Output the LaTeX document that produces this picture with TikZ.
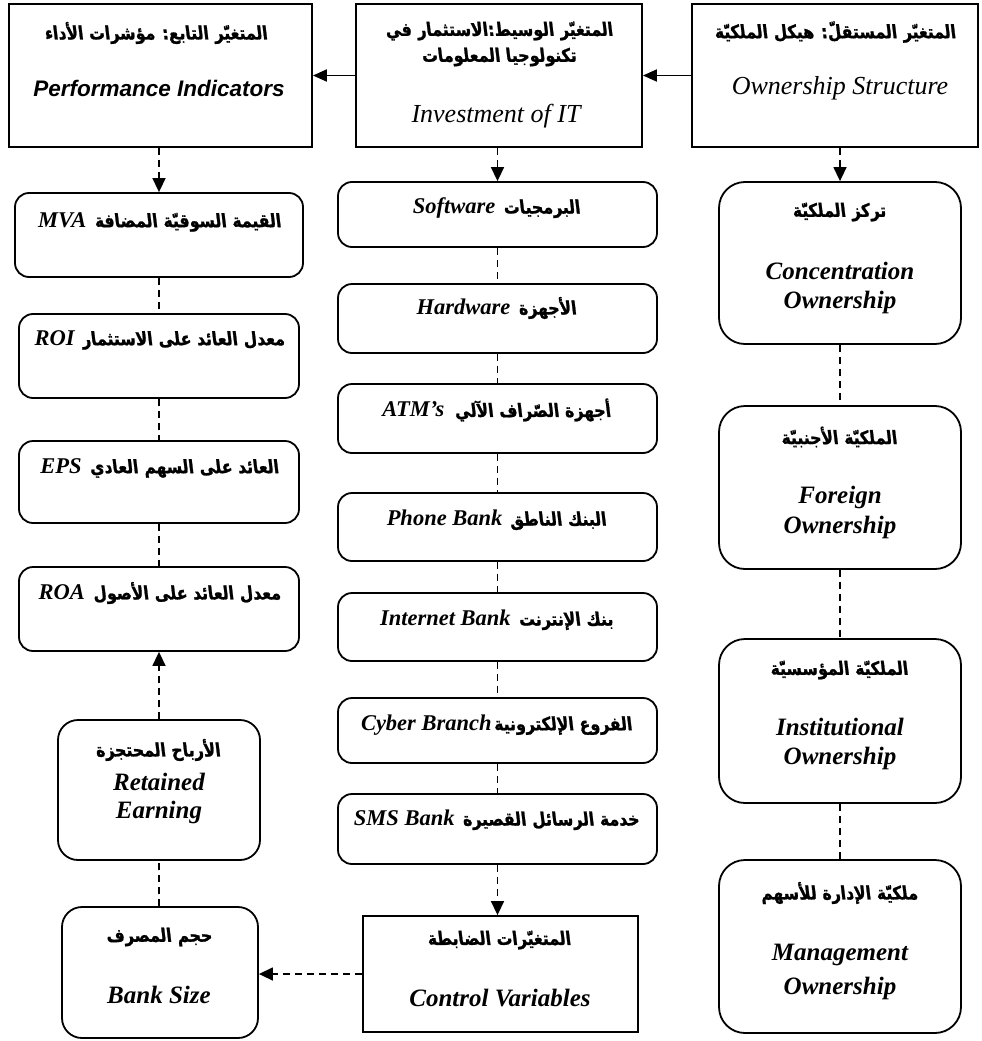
\documentclass[tikz,border=0pt]{standalone}
\usepackage{fontspec}
\usetikzlibrary{arrows.meta}
\TeXXeTstate=1
\newfontfamily\arabicfont[Script=Arabic,FakeSlant=-0.12,FakeStretch=0.85,FakeBold=1.2]{DejaVu Sans}
\newfontfamily\enserif{Liberation Serif}
\newfontfamily\ensans{Liberation Sans}
\newcommand{\arB}{\arabicfont\bfseries\fontsize{18.5}{22}\selectfont}
\newcommand{\enB}{\enserif\bfseries\itshape\fontsize{22.5}{26}\selectfont}
\newcommand{\enL}{\enserif\bfseries\itshape\fontsize{25}{29}\selectfont}
\newcommand{\enI}{\enserif\itshape\fontsize{26}{30}\selectfont}
\newcommand{\ar}[1]{{\arB\beginR #1\endR}}
\tikzset{
  sqbox/.style={draw, line width=1.8pt, inner sep=0pt},
  rbox/.style={draw, line width=1.8pt, rounded corners=14pt, inner sep=0pt},
  rbig/.style={draw, line width=1.8pt, rounded corners=26pt, inner sep=0pt},
  rmid/.style={draw, line width=1.8pt, rounded corners=20pt, inner sep=0pt},
  txt/.style={inner sep=0pt, anchor=center},
  dashln/.style={line width=1.5pt, dash pattern=on 7pt off 5pt},
  solidarr/.style={line width=1.8pt, -{Triangle[length=14pt,width=12pt]}},
  dasharr/.style={dashln, -{Triangle[length=14pt,width=13pt]}}
}
\begin{document}
\begin{tikzpicture}[x=1pt,y=-1pt]
\useasboundingbox (0,0) rectangle (982,1041);
% top row
\node[sqbox, minimum width=303pt, minimum height=143pt] (dep) at (160.5,75.5) {};
\node[sqbox, minimum width=286pt, minimum height=143pt] (med) at (499,75.5) {};
\node[sqbox, minimum width=286pt, minimum height=143pt] (ind) at (835,75.5) {};
\node[txt] (depA) at (157,33) {\ar{المتغيّر التابع: مؤشرات الأداء}};
\node[txt] (depE) at (159,88) {\ensans\bfseries\itshape\fontsize{22.5}{26}\selectfont Performance Indicators};
\node[txt] (medA) at (500,31) {\ar{المتغيّر الوسيط:الاستثمار في}};
\node[txt] (medB) at (500,57) {\ar{تكنولوجيا المعلومات}};
\node[txt] (medE) at (496,116) {\enI Investment of IT};
\node[txt] (indA) at (836,32) {\ar{المتغيّر المستقلّ: هيكل الملكيّة}};
\node[txt] (indE) at (840,88) {\enI Ownership Structure};
% left column
\node[rbox, minimum width=288pt, minimum height=84pt] (mva) at (159,235) {};
\node[rbox, minimum width=280pt, minimum height=84pt] (roi) at (159,356) {};
\node[rbox, minimum width=280pt, minimum height=82pt] (eps) at (159,482) {};
\node[rbox, minimum width=280pt, minimum height=84pt] (roa) at (159,609) {};
\node[rmid, minimum width=202pt, minimum height=140pt] (ret) at (159,790) {};
\node[rmid, minimum width=196pt, minimum height=131pt] (size) at (160,972.5) {};
\node[txt] (mvaT) at (160,222) {{\enB MVA}\hspace{9pt}\ar{القيمة السوقيّة المضافة}};
\node[txt] (roiT) at (160,340) {{\enB ROI}\hspace{8pt}\ar{معدل العائد على الاستثمار}};
\node[txt] (epsT) at (160,468) {{\enB EPS}\hspace{9pt}\ar{العائد على السهم العادي}};
\node[txt] (roaT) at (160,593) {{\enB ROA}\hspace{9pt}\ar{معدل العائد على الأصول}};
\node[txt] (retA) at (159,750) {\ar{الأرباح المحتجزة}};
\node[txt] (retB) at (159,782) {\enL Retained};
\node[txt] (retC) at (159,812) {\enL Earning};
\node[txt] (sizeA) at (160,937) {\ar{حجم المصرف}};
\node[txt] (sizeB) at (159,995) {\enL Bank Size};
% middle column
\node[rbox, minimum width=319pt, minimum height=65pt] (soft) at (497.5,214.5) {};
\node[rbox, minimum width=319pt, minimum height=69pt] (hard) at (497.5,318.5) {};
\node[rbox, minimum width=319pt, minimum height=69pt] (atm) at (497.5,418.5) {};
\node[rbox, minimum width=319pt, minimum height=68pt] (phone) at (497.5,527) {};
\node[rbox, minimum width=319pt, minimum height=68pt] (inet) at (497.5,627) {};
\node[rbox, minimum width=319pt, minimum height=65pt] (cyber) at (497.5,730.5) {};
\node[rbox, minimum width=319pt, minimum height=70pt] (sms) at (497.5,829) {};
\node[sqbox, minimum width=275pt, minimum height=116pt] (ctrl) at (500.5,974) {};
\node[txt] (softT) at (497,208) {{\enB Software}\hspace{9pt}\ar{البرمجيات}};
\node[txt] (hardT) at (497,308) {{\enB Hardware}\hspace{9pt}\ar{الأجهزة}};
\node[txt] (atmT) at (497,410) {{\enB ATM’s}\hspace{11pt}\ar{أجهزة الصّراف الآلي}};
\node[txt] (phoneT) at (497,520) {{\enB Phone Bank}\hspace{8pt}\ar{البنك الناطق}};
\node[txt] (inetT) at (497,620) {{\enB Internet Bank}\hspace{9pt}\ar{بنك الإنترنت}};
\node[txt] (cyberT) at (497,725) {{\enB Cyber Branch}\hspace{3pt}\ar{الفروع الإلكترونية}};
\node[txt] (smsT) at (497,820) {{\enB SMS Bank}\hspace{9pt}\ar{خدمة الرسائل القصيرة}};
\node[txt] (ctrlA) at (500,940) {\ar{المتغيّرات الضابطة}};
\node[txt] (ctrlB) at (500,998) {\enL Control Variables};
% right column
\node[rbig, minimum width=242pt, minimum height=162pt] (conc) at (840,263) {};
\node[rbig, minimum width=242pt, minimum height=163pt] (forg) at (840,487.5) {};
\node[rbig, minimum width=242pt, minimum height=164pt] (inst) at (840,721) {};
\node[rbig, minimum width=242pt, minimum height=173pt] (mgmt) at (840,946.5) {};
\node[txt] (concA) at (840,212) {\ar{تركز الملكيّة}};
\node[txt] (concB) at (840,271) {\enL Concentration};
\node[txt] (concC) at (840,302) {\enL Ownership};
\node[txt] (forgA) at (840,437) {\ar{الملكيّة الأجنبيّة}};
\node[txt] (forgB) at (840,497) {\enL Foreign};
\node[txt] (forgC) at (840,527) {\enL Ownership};
\node[txt] (instA) at (840,670) {\ar{الملكيّة المؤسسيّة}};
\node[txt] (instB) at (840,727) {\enL Institutional};
\node[txt] (instC) at (840,758) {\enL Ownership};
\node[txt] (mgmtA) at (840,893) {\ar{ملكيّة الإدارة للأسهم}};
\node[txt] (mgmtB) at (840,955) {\enL Management};
\node[txt] (mgmtC) at (840,988) {\enL Ownership};
% connectors
\draw[solidarr] (ind.west) -- (med.east);
\draw[solidarr] (med.west) -- (dep.east);
\draw[dasharr] (mva.north |- dep.south) -- (mva.north);
\draw[dasharr] (soft.north |- med.south) -- (soft.north);
\draw[dasharr] (conc.north |- ind.south) -- (conc.north);
\draw[dashln] (mva.south) -- (roi.north);
\draw[dashln] (roi.south) -- (eps.north);
\draw[dashln] (eps.south) -- (roa.north);
\draw[dasharr] (ret.north) -- (roa.south);
\draw[dashln] (size.north -| ret.south) -- (ret.south);
\draw[dashln] (soft.south) -- (hard.north);
\draw[dashln] (hard.south) -- (atm.north);
\draw[dashln] (atm.south) -- (phone.north);
\draw[dashln] (phone.south) -- (inet.north);
\draw[dashln] (inet.south) -- (cyber.north);
\draw[dashln] (cyber.south) -- (sms.north);
\draw[dasharr] (sms.south) -- (sms.south |- ctrl.north);
\draw[dasharr] (ctrl.west) -- (ctrl.west -| size.east);
\draw[dashln] (conc.south) -- (forg.north);
\draw[dashln] (forg.south) -- (inst.north);
\draw[dashln] (inst.south) -- (mgmt.north);
\end{tikzpicture}
\end{document}
